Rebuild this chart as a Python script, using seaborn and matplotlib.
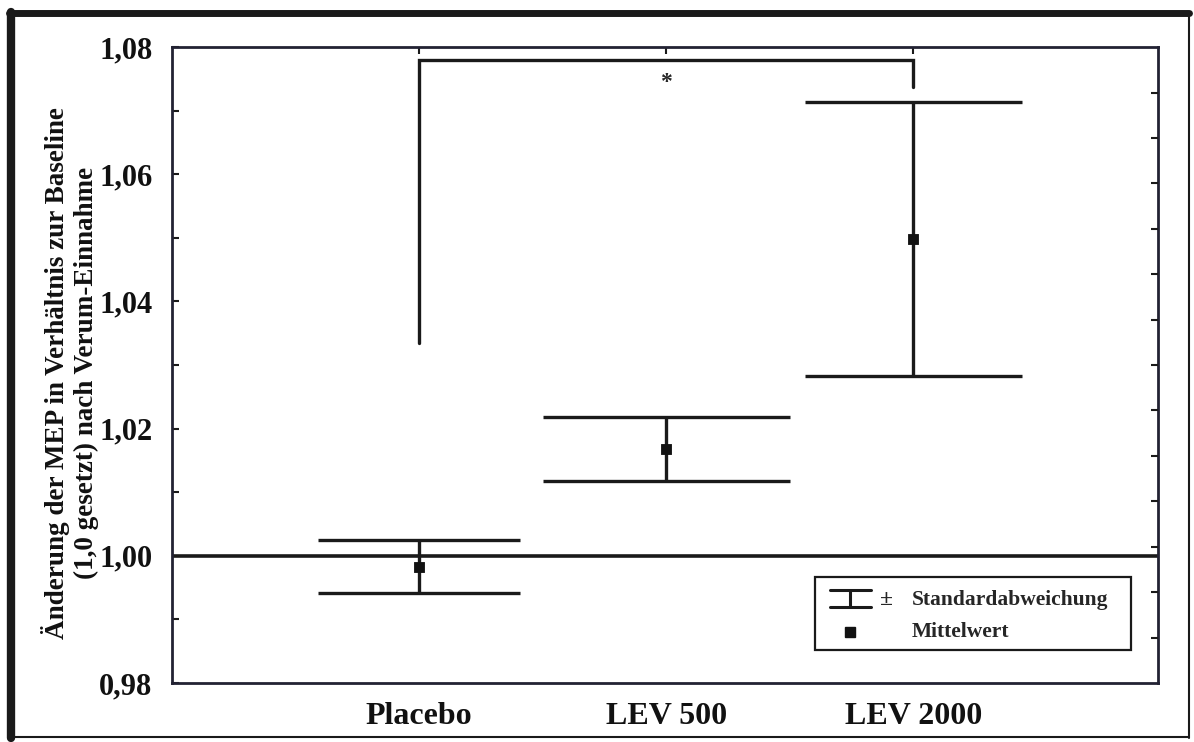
import numpy as np
import pandas as pd
import matplotlib
matplotlib.use("Agg")
import matplotlib.pyplot as plt
import seaborn as sns
from matplotlib.lines import Line2D
from matplotlib.patches import Rectangle

# ---- data ----
categories = ["Placebo", "LEV 500", "LEV 2000"]
means = [0.9983, 1.0168, 1.0498]
sd_upper = [1.0025, 1.0218, 1.0713]
sd_lower = [0.9941, 1.0118, 1.0283]
y_ticks = [0.98, 1.00, 1.02, 1.04, 1.06, 1.08]
y_tick_labels = ["0,98", "1,00", "1,02", "1,04", "1,06", "1,08"]
bracket_low = 1.0335
bracket_top = 1.0779
bracket_right_low = 1.0738
star_y = 1.0745
ylabel = "Änderung der MEP in Verhältnis zur Baseline\n(1,0 gesetzt) nach Verum-Einnahme"

sns.set_theme(style="white")
plt.rcParams["font.family"] = ["Liberation Serif", "DejaVu Serif"]
plt.rcParams["font.weight"] = "bold"

fig = plt.figure(figsize=(11.94, 7.42), dpi=100)
ax = fig.add_axes([0.144, 0.0795, 0.826, 0.857])

pos = np.arange(len(categories))
df = pd.DataFrame({"pos": pos, "mean": means, "cat": categories})

lw = 2.4
cap_half = [0.41, 0.50, 0.44]  # half cap width in category units (style)
for i in range(len(categories)):
    ax.vlines(pos[i], sd_lower[i], sd_upper[i], color="#1a1a1a", lw=lw, zorder=3)
    ax.hlines([sd_lower[i], sd_upper[i]], pos[i] - cap_half[i], pos[i] + cap_half[i],
              color="#1a1a1a", lw=lw, zorder=3)

sns.scatterplot(data=df, x="pos", y="mean", marker="s", s=60, color="#111111",
                edgecolor="#111111", ax=ax, zorder=4, legend=False)

# baseline
ax.axhline(1.0, color="#1a1a1a", lw=2.6, zorder=2)

# significance bracket
ax.plot([pos[0], pos[0], pos[2], pos[2]],
        [bracket_low, bracket_top, bracket_top, bracket_right_low],
        color="#1a1a1a", lw=lw, zorder=3, solid_joinstyle="miter")
ax.text(pos[1], star_y, "*", ha="center", va="center", fontsize=17, fontweight="bold")

ax.set_xlim(-1.0, 2.99)
ax.set_ylim(0.98, 1.08)
ax.set_yticks(y_ticks)
ax.set_yticklabels(y_tick_labels)
ax.set_yticks([0.99, 1.01, 1.03, 1.05, 1.07], minor=True)
ax.set_xticks(pos)
ax.set_xticklabels(categories)
ax.tick_params(axis="y", which="both", direction="in", length=5, width=1.5,
               labelsize=22, pad=14, left=True, right=False, colors="#1a1a1a")
ax.tick_params(axis="x", direction="in", length=5, width=1.5, labelsize=23, pad=14,
               top=True, bottom=False, colors="#1a1a1a")
for lab in ax.get_xticklabels() + ax.get_yticklabels():
    lab.set_fontweight("bold")
    lab.set_color("#111111")
ax.set_xlabel("")
ax.set_ylabel(ylabel, fontsize=19.5, fontweight="bold", color="#111111", linespacing=1.2)
ax.yaxis.set_label_coords(-0.074, 0.487)

for s in ax.spines.values():
    s.set_color("#222233")
    s.set_linewidth(2.0)
    s.set_visible(True)

# right-side fine ticks
ax2 = ax.twinx()
ax2.set_ylim(0, 14)
ax2.set_yticks(np.arange(1, 14))
ax2.tick_params(axis="y", direction="in", length=5, width=1.5, labelright=False,
                colors="#1a1a1a")
ax2.grid(False)
for s in ax2.spines.values():
    s.set_visible(False)

# legend (manual)
ax.add_patch(Rectangle((0.652, 0.052), 0.320, 0.115, transform=ax.transAxes,
                       fill=True, facecolor="white", edgecolor="#1a1a1a", lw=1.6, zorder=5))
lx = 0.688
ax.add_line(Line2D([lx - 0.021, lx + 0.021], [0.146, 0.146], transform=ax.transAxes,
                   color="#1a1a1a", lw=2.2, zorder=6))
ax.add_line(Line2D([lx - 0.021, lx + 0.021], [0.119, 0.119], transform=ax.transAxes,
                   color="#1a1a1a", lw=2.2, zorder=6))
ax.add_line(Line2D([lx, lx], [0.119, 0.146], transform=ax.transAxes,
                   color="#1a1a1a", lw=2.2, zorder=6))
ax.add_line(Line2D([lx], [0.080], transform=ax.transAxes, marker="s", markersize=7,
                   color="#111111", lw=0, zorder=6))
ax.text(0.725, 0.131, "±", transform=ax.transAxes, ha="center", va="center",
        fontsize=17, fontweight="bold", zorder=6)
ax.text(0.750, 0.131, "Standardabweichung", transform=ax.transAxes, ha="left",
        va="center", fontsize=15.5, fontweight="bold", zorder=6)
ax.text(0.750, 0.080, "Mittelwert", transform=ax.transAxes, ha="left",
        va="center", fontsize=15.5, fontweight="bold", zorder=6)

# outer frame
fig.add_artist(Line2D([0.0095, 0.0095], [0.006, 0.984], transform=fig.transFigure,
                      color="#1a1a1a", lw=6))
fig.add_artist(Line2D([0.0075, 0.996], [0.983, 0.983], transform=fig.transFigure,
                      color="#1a1a1a", lw=5))
fig.add_artist(Line2D([0.996, 0.996], [0.006, 0.983], transform=fig.transFigure,
                      color="#1a1a1a", lw=1.5))
fig.add_artist(Line2D([0.0095, 0.996], [0.007, 0.007], transform=fig.transFigure,
                      color="#1a1a1a", lw=1.5))

fig.savefig("out.png", dpi=100, facecolor="white")
